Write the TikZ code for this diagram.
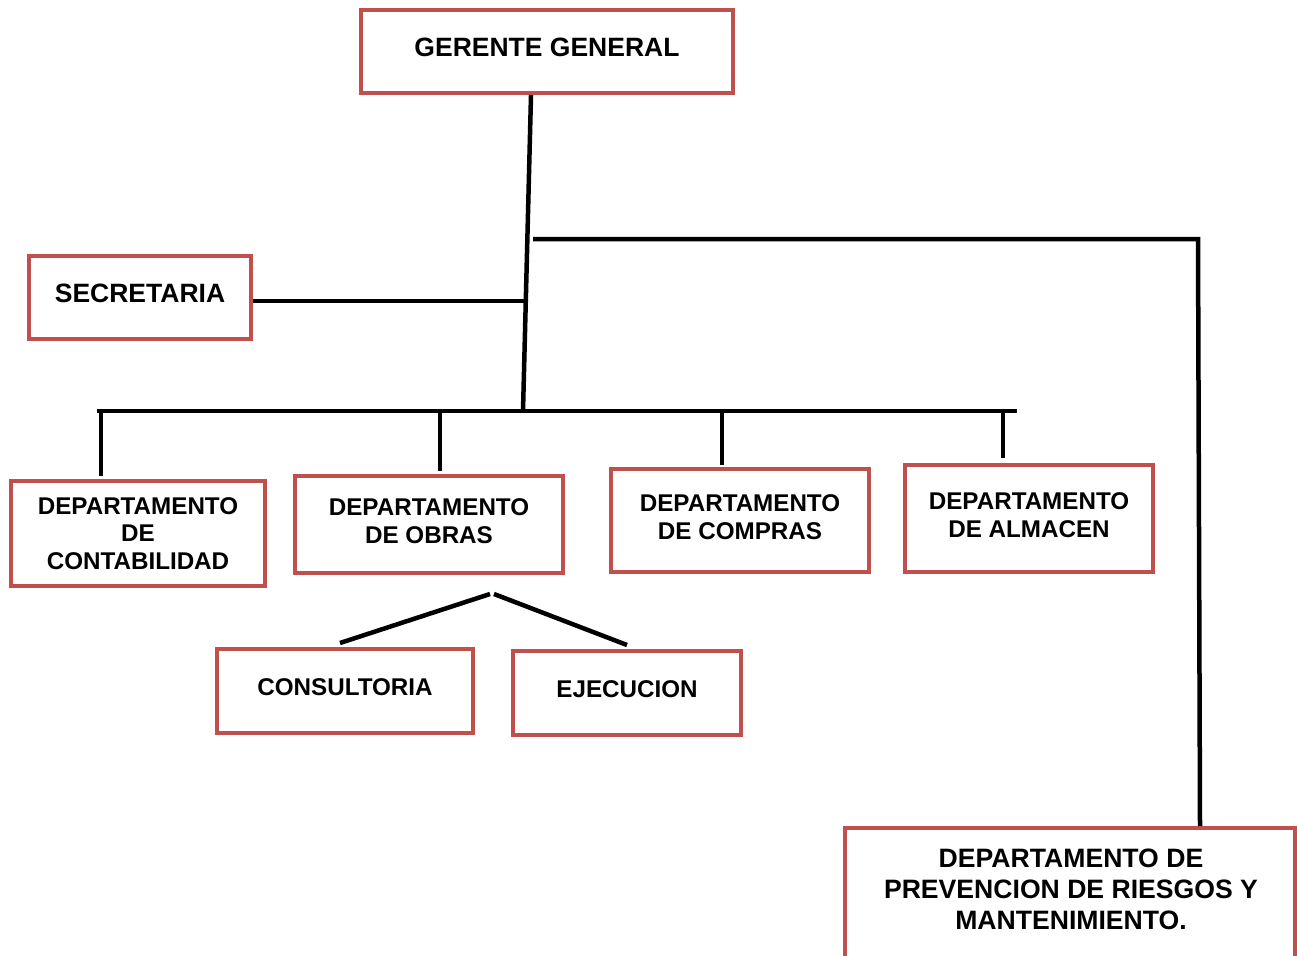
\documentclass[tikz,border=0pt]{standalone}
\usepackage{fontspec}
\setmainfont{Liberation Sans}
\definecolor{boxred}{HTML}{C0504D}
\begin{document}
\begin{tikzpicture}[x=1pt,y=-1pt,
  box/.style={draw=boxred, line width=4pt, fill=white, align=center, inner sep=0pt,
    font=\fontsize{24.2}{27.5}\selectfont\bfseries},
  onebox/.style={box, text depth=8pt},
  twobox/.style={box, text depth=7pt},
  bigbox/.style={onebox, font=\fontsize{26.5}{30}\selectfont\bfseries},
  txt/.style={align=center, inner sep=0pt, font=\fontsize{26.6}{31}\selectfont\bfseries},
  conn/.style={line width=4.5pt, black}]
\useasboundingbox (0,0) rectangle (1297,955);
% boxes
\node[bigbox, minimum width=372pt, minimum height=83pt] (gg) at (547,51.5) {GERENTE GENERAL};
\node[bigbox, minimum width=222pt, minimum height=83pt] (sec) at (140,297.5) {SECRETARIA};
\node[box, minimum width=254pt, minimum height=105pt] (cont) at (138,533.5) {DEPARTAMENTO\\DE\\CONTABILIDAD};
\node[twobox, minimum width=268pt, minimum height=97pt] (obras) at (429,524.5) {DEPARTAMENTO\\DE OBRAS};
\node[twobox, minimum width=258pt, minimum height=103pt] (comp) at (740,520.5) {DEPARTAMENTO\\DE COMPRAS};
\node[twobox, minimum width=248pt, minimum height=107pt] (alm) at (1029,518.5) {DEPARTAMENTO\\DE ALMACEN};
\node[onebox, minimum width=256pt, minimum height=84pt] (cons) at (345,691) {CONSULTORIA};
\node[onebox, minimum width=228pt, minimum height=84pt] (ejec) at (627,693) {EJECUCION};
\node[box, minimum width=450pt, minimum height=170pt, anchor=north] (prev) at (1070,826) {};
\node[txt] (prevt) at (1071,889) {DEPARTAMENTO DE\\PREVENCION DE RIESGOS Y\\MANTENIMIENTO.};
% junction coordinates
\coordinate (tTop) at (531,95);
\coordinate (tBot) at (523,411);
\coordinate (rA) at (533,239);
\coordinate (rB) at (1198,239);
\coordinate (rC) at (1200,826);
\coordinate (sJ) at (527,301);
\coordinate (hL) at (97,411);
\coordinate (hR) at (1017,411);
\coordinate (oL) at (490,594);
\coordinate (oR) at (494,594);
% connectors
\draw[conn] (tTop) -- (tBot);
\draw[conn] (rA) -- (rB) -- (rC);
\draw[conn] (sec.east |- sJ) -- (sJ);
\draw[conn] (hL) -- (hR);
\draw[conn] (101,411) -- (101,476);
\draw[conn] (440,411) -- (440,471);
\draw[conn] (722,411) -- (722,465);
\draw[conn] (1003,411) -- (1003,458);
\draw[conn] (oL) -- (340,643);
\draw[conn] (oR) -- (627,645);
\end{tikzpicture}
\end{document}
